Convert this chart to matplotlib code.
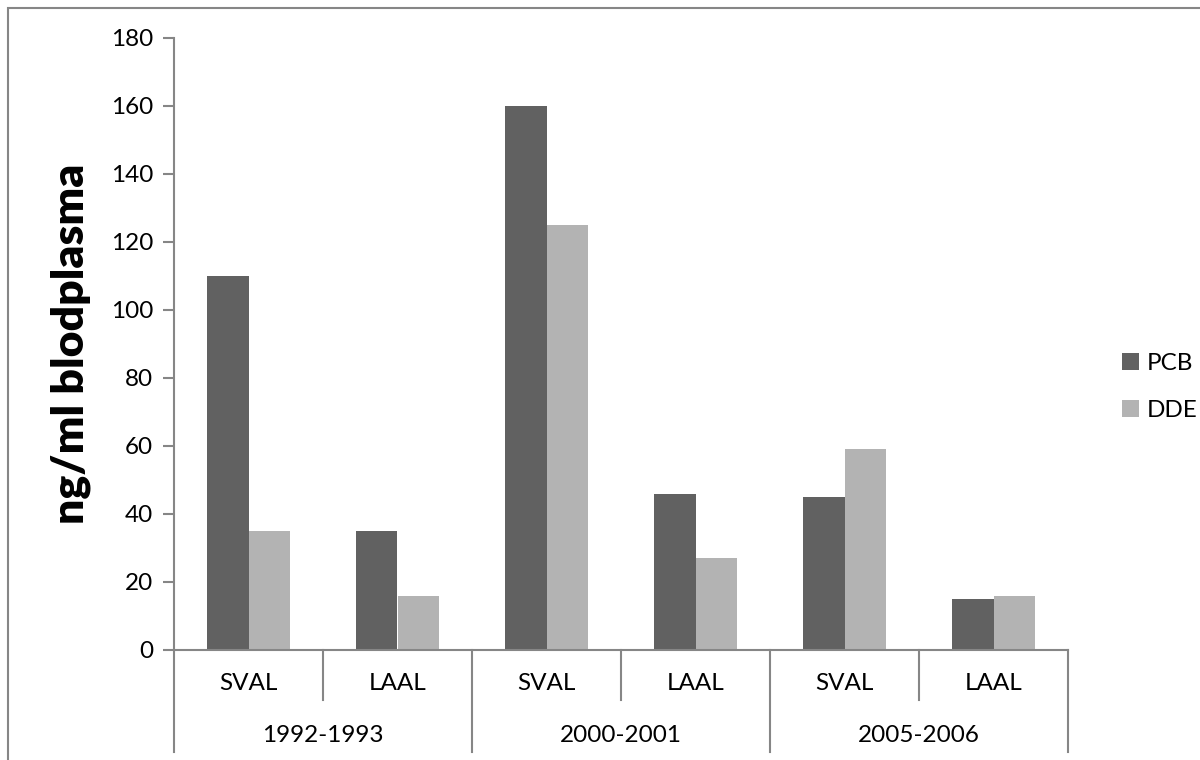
import matplotlib
matplotlib.use("Agg")
import matplotlib.pyplot as plt
from matplotlib.patches import Rectangle
import matplotlib.transforms as mtransforms
import numpy as np

plt.rcParams['font.family'] = ['Lato', 'DejaVu Sans']

periods = ["1992-1993", "2000-2001", "2005-2006"]
sites = ["SVAL", "LAAL", "SVAL", "LAAL", "SVAL", "LAAL"]
pcb = [110, 35, 160, 46, 45, 15]
dde = [35, 16, 125, 27, 59, 16]
series_names = ["PCB", "DDE"]
yticks = [0, 20, 40, 60, 80, 100, 120, 140, 160, 180]

c_pcb = "#616161"
c_dde = "#b3b3b3"
c_axis = "#868686"

W, H = 1200, 760
fig = plt.figure(figsize=(12, 7.6), dpi=100)
ax = fig.add_axes([174 / W, (H - 650) / H, (1068 - 174) / W, (650 - 38) / H])

n = len(sites)
x = np.arange(n) + 0.5
bw = 0.279
ax.bar(x - bw / 2, pcb, bw, color=c_pcb, label=series_names[0], zorder=2)
ax.bar(x + bw / 2, dde, bw, color=c_dde, label=series_names[1], zorder=2)

ax.set_xlim(0, n)
ax.set_ylim(0, 180)
ax.set_yticks(yticks)
ax.set_xticks([])
ax.tick_params(axis='y', direction='out', length=8, width=1.5, color=c_axis,
               labelsize=17.5, pad=7, labelcolor='black')
for s in ['top', 'right']:
    ax.spines[s].set_visible(False)
for s in ['left', 'bottom']:
    ax.spines[s].set_color(c_axis)
    ax.spines[s].set_linewidth(1.5)

ax.set_ylabel("ng/ml blodplasma", fontsize=32, fontweight='heavy', labelpad=14)

# category axis labels & separators
trans = mtransforms.blended_transform_factory(ax.transData, ax.transAxes)
axh = 650 - 38
y_inner = -(700 - 650) / axh
y_outer = -(752 - 650) / axh
y_site = -(683 - 650) / axh
y_per = -(735 - 650) / axh
for i, s in enumerate(sites):
    ax.text(i + 0.5, y_site, s, transform=trans, ha='center', va='center', fontsize=17.5)
for i in range(n + 1):
    bottom = y_outer if i % 2 == 0 else y_inner
    ax.plot([i, i], [0, bottom], transform=trans, color=c_axis, lw=1.5, clip_on=False)
for j, p in enumerate(periods):
    ax.text(2 * j + 1, y_per, p, transform=trans, ha='center', va='center', fontsize=17.5)

leg = ax.legend(loc='center left', bbox_to_anchor=(1110 / W, (H - 387) / H),
                bbox_transform=fig.transFigure, frameon=False, fontsize=17.5,
                handlelength=0.7, handleheight=0.7, handletextpad=0.3,
                labelspacing=1.1, borderpad=0)

# outer chart border
fig.patches.append(Rectangle((8 / W, -0.1), 1.2, (H - 8) / H + 0.1,
                             transform=fig.transFigure, fill=False,
                             edgecolor=c_axis, lw=1.5))

fig.savefig("out.png", dpi=100, facecolor='white')
